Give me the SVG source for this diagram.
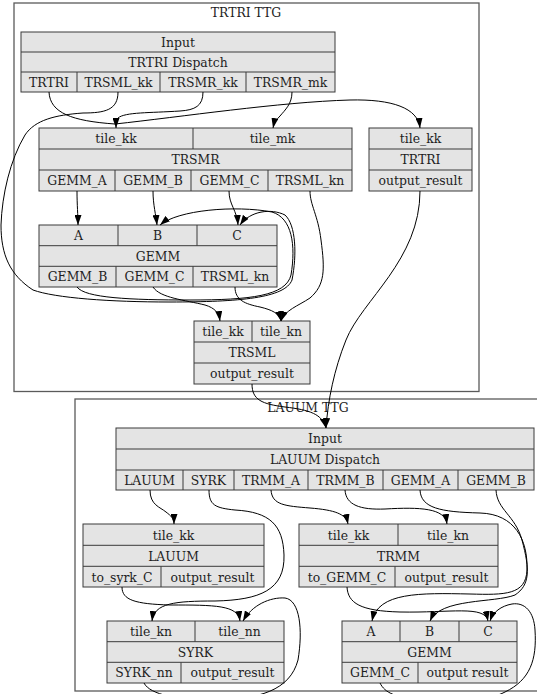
<svg xmlns="http://www.w3.org/2000/svg" width="537" height="694" viewBox="0 0 537 694">
<defs>
<style>
.cl{fill:none;stroke:#5a5a5a;stroke-width:1.3}
.nd rect{fill:#e4e4e4;stroke:#3a3a3a;stroke-width:1}
.nd line{stroke:#3a3a3a;stroke-width:1}
text{font-family:"DejaVu Serif","Liberation Serif",serif;font-size:12.4px;fill:#1e1e1e;text-anchor:middle}
.e path{fill:none;stroke:#000;stroke-width:1}
</style>
<marker id="ah" viewBox="0 0 10 7" refX="10" refY="3.5" markerWidth="10" markerHeight="7" orient="auto" markerUnits="userSpaceOnUse"><path d="M0,0 L10,3.5 L0,7 z" fill="#000"/></marker>
</defs>
<rect width="537" height="694" fill="#fff"/>
<g id="cluster_trtri"><rect class="cl" x="14" y="3" width="465" height="388.5"/><text x="246" y="17">TRTRI TTG</text></g>
<g id="cluster_lauum"><rect class="cl" x="75" y="399" width="470" height="292"/><text x="308" y="412">LAUUM TTG</text></g>

<g id="trtri_dispatch" class="nd">
<rect x="21" y="32" width="314" height="60"/>
<line x1="21" y1="52" x2="335" y2="52"/><line x1="21" y1="72" x2="335" y2="72"/>
<line x1="77" y1="72" x2="77" y2="92"/><line x1="160" y1="72" x2="160" y2="92"/><line x1="246" y1="72" x2="246" y2="92"/>
<text x="178" y="46.5">Input</text><text x="178" y="66.5">TRTRI Dispatch</text>
<text x="49" y="86.5">TRTRI</text><text x="118.5" y="86.5">TRSML_kk</text><text x="203" y="86.5">TRSMR_kk</text><text x="290.5" y="86.5">TRSMR_mk</text>
</g>
<g id="trsmr" class="nd">
<rect x="39" y="128" width="313" height="63"/>
<line x1="39" y1="149" x2="352" y2="149"/><line x1="39" y1="170" x2="352" y2="170"/>
<line x1="193" y1="128" x2="193" y2="149"/>
<line x1="115" y1="170" x2="115" y2="191"/><line x1="191" y1="170" x2="191" y2="191"/><line x1="268" y1="170" x2="268" y2="191"/>
<text x="116" y="143">tile_kk</text><text x="272.5" y="143">tile_mk</text><text x="195.5" y="164">TRSMR</text>
<text x="77" y="185">GEMM_A</text><text x="153" y="185">GEMM_B</text><text x="229.5" y="185">GEMM_C</text><text x="310" y="185">TRSML_kn</text>
</g>
<g id="trtri" class="nd">
<rect x="369" y="128" width="103" height="63"/>
<line x1="369" y1="149" x2="472" y2="149"/><line x1="369" y1="170" x2="472" y2="170"/>
<text x="420.5" y="143">tile_kk</text><text x="420.5" y="164">TRTRI</text><text x="420.5" y="185">output_result</text>
</g>
<g id="gemm_top" class="nd">
<rect x="39" y="225" width="238" height="62"/>
<line x1="39" y1="245.7" x2="277" y2="245.7"/><line x1="39" y1="266.3" x2="277" y2="266.3"/>
<line x1="118" y1="225" x2="118" y2="245.7"/><line x1="197" y1="225" x2="197" y2="245.7"/>
<line x1="116" y1="266.3" x2="116" y2="287"/><line x1="193" y1="266.3" x2="193" y2="287"/>
<text x="78.5" y="240">A</text><text x="157.5" y="240">B</text><text x="237" y="240">C</text>
<text x="158" y="260.5">GEMM</text>
<text x="77.5" y="281">GEMM_B</text><text x="154.5" y="281">GEMM_C</text><text x="235" y="281">TRSML_kn</text>
</g>
<g id="trsml" class="nd">
<rect x="194" y="321" width="116" height="63"/>
<line x1="194" y1="342" x2="310" y2="342"/><line x1="194" y1="363" x2="310" y2="363"/>
<line x1="252" y1="321" x2="252" y2="342"/>
<text x="223" y="336">tile_kk</text><text x="281" y="336">tile_kn</text><text x="252" y="357">TRSML</text><text x="252" y="378">output_result</text>
</g>

<g id="lauum_dispatch" class="nd">
<rect x="116" y="428" width="418" height="62"/>
<line x1="116" y1="449" x2="534" y2="449"/><line x1="116" y1="470" x2="534" y2="470"/>
<line x1="183" y1="470" x2="183" y2="490"/><line x1="234" y1="470" x2="234" y2="490"/><line x1="308" y1="470" x2="308" y2="490"/><line x1="383" y1="470" x2="383" y2="490"/><line x1="458" y1="470" x2="458" y2="490"/>
<text x="325" y="443">Input</text><text x="325" y="464">LAUUM Dispatch</text>
<text x="149.5" y="484.5">LAUUM</text><text x="208.5" y="484.5">SYRK</text><text x="271" y="484.5">TRMM_A</text><text x="345.5" y="484.5">TRMM_B</text><text x="420.5" y="484.5">GEMM_A</text><text x="496" y="484.5">GEMM_B</text>
</g>
<g id="lauum" class="nd">
<rect x="83" y="524" width="181" height="63"/>
<line x1="83" y1="545.3" x2="264" y2="545.3"/><line x1="83" y1="566.3" x2="264" y2="566.3"/>
<line x1="161" y1="566.3" x2="161" y2="587"/>
<text x="173.5" y="539.5">tile_kk</text><text x="173.5" y="560.5">LAUUM</text>
<text x="122" y="581.5">to_syrk_C</text><text x="212.5" y="581.5">output_result</text>
</g>
<g id="trmm" class="nd">
<rect x="299" y="524" width="199" height="63"/>
<line x1="299" y1="545.3" x2="498" y2="545.3"/><line x1="299" y1="566.3" x2="498" y2="566.3"/>
<line x1="398" y1="524" x2="398" y2="545.3"/><line x1="395" y1="566.3" x2="395" y2="587"/>
<text x="348.5" y="539.5">tile_kk</text><text x="448" y="539.5">tile_kn</text><text x="398.5" y="560.5">TRMM</text>
<text x="347" y="581.5">to_GEMM_C</text><text x="446.5" y="581.5">output_result</text>
</g>
<g id="syrk" class="nd">
<rect x="107" y="621" width="177" height="62"/>
<line x1="107" y1="641.7" x2="284" y2="641.7"/><line x1="107" y1="662.3" x2="284" y2="662.3"/>
<line x1="195" y1="621" x2="195" y2="641.7"/><line x1="181" y1="662.3" x2="181" y2="683"/>
<text x="151" y="636">tile_kn</text><text x="239.5" y="636">tile_nn</text><text x="195.5" y="656.5">SYRK</text>
<text x="144" y="677">SYRK_nn</text><text x="232.5" y="677">output_result</text>
</g>
<g id="gemm_bottom" class="nd">
<rect x="342" y="621" width="175" height="62"/>
<line x1="342" y1="641.7" x2="517" y2="641.7"/><line x1="342" y1="662.3" x2="517" y2="662.3"/>
<line x1="400" y1="621" x2="400" y2="641.7"/><line x1="459" y1="621" x2="459" y2="641.7"/><line x1="418" y1="662.3" x2="418" y2="683"/>
<text x="371" y="636">A</text><text x="429.5" y="636">B</text><text x="488" y="636">C</text><text x="429.5" y="656.5">GEMM</text>
<text x="380" y="677">GEMM_C</text><text x="467.5" y="677">output result</text>
</g>

<g id="connectors" class="e">
<path marker-end="url(#ah)" d="M49,92 C50,113 72,121 115,124 C180,117 280,102 350,100 C392,99 418,108 420,128"/>
<path marker-end="url(#ah)" d="M203,92 C203,106 195,110 180,111 C150,113 125,112 118,118 C116,121 116,124 116,128"/>
<path marker-end="url(#ah)" d="M292,92 C292,104 285,110 280,116 C276,120 274,123 273,128"/>
<path marker-end="url(#ah)" d="M118,92 C118,110 105,113 83,113 C55,115 35,120 25,135 C10,160 2,195 1,225 C1,255 10,275 33,290 C55,298 110,302 170,302 C240,302 285,298 292,280 C297,255 296,225 285,215 C271,208 250,211 240,225"/>
<path marker-end="url(#ah)" d="M77,191 C77,205 78,215 78,225"/>
<path marker-end="url(#ah)" d="M153,191 C153,205 156,215 157,225"/>
<path marker-end="url(#ah)" d="M229,191 C229,205 237,210 238,225"/>
<path marker-end="url(#ah)" d="M310,191 C310,205 318,215 321,240 C325,270 325,285 310,298 C298,306 285,310 281,321"/>
<path marker-end="url(#ah)" d="M77,287 C85,298 130,300 190,300 C250,300 286,296 291,275 C296,245 292,218 272,212 C235,205 178,210 160,225"/>
<path marker-end="url(#ah)" d="M153,287 C160,298 185,300 205,305 C215,308 219,313 220,321"/>
<path marker-end="url(#ah)" d="M235,287 C235,300 245,304 260,307 C272,310 279,313 281,321"/>
<path marker-end="url(#ah)" d="M252,384 C252,400 262,404 285,407 C310,410 322,414 326,428"/>
<path marker-end="url(#ah)" d="M420,191 C420,260 362,300 346,340 C334,370 328,400 326,428"/>
<path marker-end="url(#ah)" d="M150,490 C150,505 160,507 166,512 C171,516 174,518 174,524"/>
<path marker-end="url(#ah)" d="M209,490 C209,505 215,508 235,510 C270,512 283,525 284,555 C285,590 260,600 215,601 C175,601 154,603 152,621"/>
<path marker-end="url(#ah)" d="M271,490 C272,505 285,506 310,508 C335,510 346,514 348,524"/>
<path marker-end="url(#ah)" d="M345,490 C346,505 360,510 385,509 C420,507 445,508 447,524"/>
<path marker-end="url(#ah)" d="M420,490 C421,508 440,512 480,513 C515,514 528,540 527,570 C526,595 505,595 470,594 C420,593 378,592 372,621"/>
<path marker-end="url(#ah)" d="M496,490 C497,510 515,515 522,540 C530,570 530,585 515,595 C495,603 440,598 430,621"/>
<path marker-end="url(#ah)" d="M347,587 C348,603 360,611 400,612 C450,613 485,605 488,621"/>
<path marker-end="url(#ah)" d="M380,683 C385,693 395,697 420,700 C460,703 490,700 505,692 C530,680 537,660 535,630 C534,612 525,602 512,604 C501,606 493,612 490,621"/>
<path marker-end="url(#ah)" d="M122,587 C122,600 135,604 170,605 C215,605 238,605 240,621"/>
<path marker-end="url(#ah)" d="M144,683 C150,695 180,700 210,700 C260,700 290,690 298,660 C303,630 300,600 285,598 C270,597 252,605 243,621"/>
</g>
</svg>
